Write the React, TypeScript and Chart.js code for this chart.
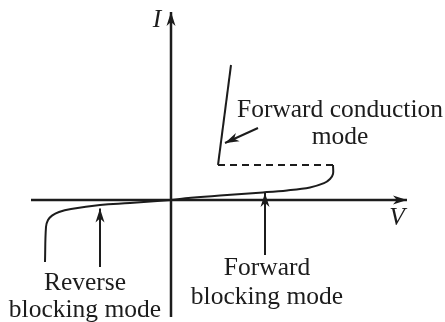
import React, { useEffect, useRef } from "react";
import { Chart, registerables } from "chart.js";

Chart.register(...registerables);

// Axis extents (data units)
const axisV = [-7.0, 11.8];
const axisI = [-5.85, 9.4];

// Forward blocking branch (V, I)
const fwdV = [0, 1.0, 2.45, 4.6, 5.8, 6.95, 7.65, 7.95, 8.1, 8.1];
const fwdI = [0, 0.11, 0.23, 0.38, 0.48, 0.63, 0.84, 1.05, 1.3, 1.75];

// Reverse blocking branch
const revV = [0, -2.05, -3.55, -5.0, -5.6, -5.95, -6.15, -6.25, -6.3];
const revI = [0, -0.15, -0.25, -0.45, -0.6, -0.78, -1.0, -1.35, -3.1];

// Switching (dashed) and forward conduction
const holdV = [8.1, 2.35];
const holdI = [1.75, 1.75];
const onV = [2.35, 3.0];
const onI = [1.75, 6.75];

// Annotation arrows: [tailV, tailI, tipV, tipI]
const arrowRev = [-3.55, -3.35, -3.55, -0.42];
const arrowFwd = [4.7, -2.75, 4.7, 0.35];
const arrowOn = [4.35, 3.6, 2.7, 2.85];

// Labels
const labelText = ["I", "V", "Forward conduction", "mode", "Forward", "blocking mode", "Reverse", "blocking mode"];
const labelV = [-0.7, 11.3, 8.45, 8.45, 4.8, 4.8, -4.3, -4.3];
const labelI = [9.0, -0.9, 4.5, 3.15, -3.4, -4.85, -4.15, -5.5];
const labelItalic = [true, true, false, false, false, false, false, false];

const INK = "#1c1c1c";

const pts = (xs: number[], ys: number[]) => xs.map((x, i) => ({ x, y: ys[i] }));

export default function App() {
  const ref = useRef<HTMLCanvasElement | null>(null);

  useEffect(() => {
    document.body.style.margin = "0";
    const canvas = ref.current!;

    const arrowPlugin = {
      id: "arrowsAndLabels",
      afterDatasetsDraw(chart: any) {
        const { ctx, scales } = chart;
        const sx = scales.x, sy = scales.y;
        const head = (x0: number, y0: number, x1: number, y1: number, len: number, half: number) => {
          const a = Math.atan2(y1 - y0, x1 - x0);
          ctx.save();
          ctx.translate(x1, y1);
          ctx.rotate(a);
          ctx.beginPath();
          ctx.moveTo(0, 0);
          ctx.lineTo(-len, -half);
          ctx.lineTo(-len * 0.72, 0);
          ctx.lineTo(-len, half);
          ctx.closePath();
          ctx.fillStyle = INK;
          ctx.fill();
          ctx.restore();
        };
        head(sx.getPixelForValue(axisV[0]), sy.getPixelForValue(0), sx.getPixelForValue(axisV[1]), sy.getPixelForValue(0), 14, 4.5);
        head(sx.getPixelForValue(0), sy.getPixelForValue(axisI[0]), sx.getPixelForValue(0), sy.getPixelForValue(axisI[1]), 14, 4.5);
        for (const a of [arrowRev, arrowFwd, arrowOn]) {
          head(sx.getPixelForValue(a[0]), sy.getPixelForValue(a[1]), sx.getPixelForValue(a[2]), sy.getPixelForValue(a[3]), 14, 4.5);
        }
        ctx.save();
        ctx.fillStyle = INK;
        ctx.textAlign = "center";
        ctx.textBaseline = "middle";
        labelText.forEach((t, i) => {
          ctx.font = (labelItalic[i] ? "italic " : "") + "25.5px 'Liberation Serif', serif";
          ctx.fillText(t, sx.getPixelForValue(labelV[i]), sy.getPixelForValue(labelI[i]));
        });
        ctx.restore();
      },
    };

    const lineDs = (data: any[], width: number, extra: any = {}) => ({
      data,
      borderColor: INK,
      borderWidth: width,
      pointRadius: 0,
      fill: false,
      showLine: true,
      ...extra,
    });

    const chart = new Chart(canvas, {
      type: "scatter",
      data: {
        datasets: [
          lineDs(pts(axisV, [0, 0]), 2.5),
          lineDs(pts([0, 0], axisI), 2.5),
          lineDs(pts(fwdV, fwdI), 2, { tension: 0.35 }),
          lineDs(pts(revV, revI), 2, { tension: 0.4 }),
          lineDs(pts(holdV, holdI), 2, { borderDash: [7, 5] }),
          lineDs(pts(onV, onI), 2),
          lineDs(pts([arrowRev[0], arrowRev[2]], [arrowRev[1], arrowRev[3]]), 2),
          lineDs(pts([arrowFwd[0], arrowFwd[2]], [arrowFwd[1], arrowFwd[3]]), 2),
          lineDs(pts([arrowOn[0], arrowOn[2]], [arrowOn[1], arrowOn[3]]), 2),
        ],
      },
      options: {
        animation: false,
        responsive: true,
        maintainAspectRatio: false,
        layout: { padding: 0 },
        plugins: { legend: { display: false }, tooltip: { enabled: false } },
        scales: {
          x: { type: "linear", min: -8.55, max: 13.7, display: false },
          y: { type: "linear", min: -6.1, max: 10, display: false },
        },
      },
      plugins: [arrowPlugin],
    } as any);

    return () => chart.destroy();
  }, []);

  return (
    <div style={{ position: "fixed", left: 0, top: 0, width: 445, height: 322, background: "#fff" }}>
      <canvas ref={ref} />
    </div>
  );
}
